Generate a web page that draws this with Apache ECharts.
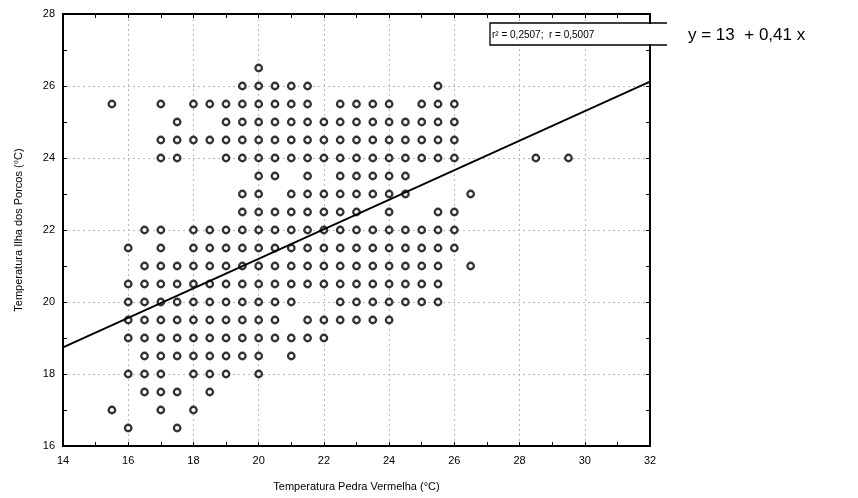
<!DOCTYPE html>
<html>
<head>
<meta charset="utf-8">
<script src="https://cdn.jsdelivr.net/npm/echarts@6/dist/echarts.min.js"></script>
<style>
  html, body { margin: 0; padding: 0; background: #fff; }
  #chart { width: 858px; height: 498px; }
</style>
</head>
<body>
<div id="chart"></div>
<script>
// Observed temperature pairs, grouped by Ilha dos Porcos temperature (°C):
// each row lists the Pedra Vermelha temperatures recorded with that value.
const rowY = [26.5, 26, 25.5, 25, 24.5, 24, 23.5, 23, 22.5, 22, 21.5, 21,
              20.5, 20, 19.5, 19, 18.5, 18, 17.5, 17, 16.5];
const rowX = [
  [20],
  [19.5, 20, 20.5, 21, 21.5, 25.5],
  [15.5, 17, 18, 18.5, 19, 19.5, 20, 20.5, 21, 21.5, 22.5, 23, 23.5, 24, 25, 25.5, 26],
  [17.5, 19, 19.5, 20, 20.5, 21, 21.5, 22, 22.5, 23, 23.5, 24, 24.5, 25, 25.5, 26],
  [17, 17.5, 18, 18.5, 19, 19.5, 20, 20.5, 21, 21.5, 22, 22.5, 23, 23.5, 24, 24.5, 25, 25.5, 26],
  [17, 17.5, 19, 19.5, 20, 20.5, 21, 21.5, 22, 22.5, 23, 23.5, 24, 24.5, 25, 25.5, 26, 28.5, 29.5],
  [20, 20.5, 21.5, 22.5, 23, 23.5, 24, 24.5],
  [19.5, 20, 21, 21.5, 22, 22.5, 23, 23.5, 24, 24.5, 26.5],
  [19.5, 20, 20.5, 21, 21.5, 22, 22.5, 23, 24, 25.5, 26],
  [16.5, 17, 18, 18.5, 19, 19.5, 20, 20.5, 21, 21.5, 22, 22.5, 23, 23.5, 24, 24.5, 25, 25.5, 26],
  [16, 17, 18, 18.5, 19, 19.5, 20, 20.5, 21, 21.5, 22, 22.5, 23, 23.5, 24, 24.5, 25, 25.5, 26],
  [16.5, 17, 17.5, 18, 18.5, 19, 19.5, 20, 20.5, 21, 21.5, 22, 22.5, 23, 23.5, 24, 24.5, 25, 25.5, 26.5],
  [16, 16.5, 17, 17.5, 18, 18.5, 19, 19.5, 20, 20.5, 21, 21.5, 22, 22.5, 23, 23.5, 24, 24.5, 25, 25.5],
  [16, 16.5, 17, 17.5, 18, 18.5, 19, 19.5, 20, 20.5, 21, 22.5, 23, 23.5, 24, 24.5, 25, 25.5],
  [16, 16.5, 17, 17.5, 18, 18.5, 19, 19.5, 20, 20.5, 21.5, 22, 22.5, 23, 23.5, 24],
  [16, 16.5, 17, 17.5, 18, 18.5, 19, 19.5, 20, 20.5, 21, 21.5, 22],
  [16.5, 17, 17.5, 18, 18.5, 19, 19.5, 20, 21],
  [16, 16.5, 17, 18, 18.5, 19, 20],
  [16.5, 17, 17.5, 18.5],
  [15.5, 17, 18],
  [16, 17.5]
];

// Least-squares fit reported on the chart
const fitIntercept = 13;
const fitSlope = 0.41;
const fitR2 = '0,2507';
const fitR = '0,5007';

// Axis ranges and tick step
const xRange = [14, 32];
const yRange = [16, 28];
const tickStep = 2;

const points = [];
rowY.forEach((y, i) => rowX[i].forEach(x => points.push([x, y])));

const fitLine = xRange.map(x => [x, fitIntercept + fitSlope * x]);

const FONT = 'Liberation Sans, Arial, sans-serif';

function axisBase(min, max, showLabels) {
  return {
    type: 'value',
    min: min,
    max: max,
    interval: tickStep,
    axisLine: { show: true, onZero: false, lineStyle: { color: '#000', width: 2 } },
    axisTick: { show: true, inside: true, length: 4, lineStyle: { color: '#000', width: 1 } },
    minorTick: { show: true, splitNumber: 2, length: 4, lineStyle: { color: '#000', width: 1 } },
    splitLine: { show: showLabels, lineStyle: { color: '#b8b8b8', type: [2, 3], width: 1 } },
    axisLabel: { show: showLabels, color: '#000', fontFamily: FONT, fontSize: 11 }
  };
}

const chart = echarts.init(document.getElementById('chart'), null, { renderer: 'canvas' });

chart.setOption({
  animation: false,
  backgroundColor: '#fff',
  grid: { left: 63, right: 208, top: 14, bottom: 52 },
  xAxis: [
    Object.assign(axisBase(xRange[0], xRange[1], true), {
      position: 'bottom',
      name: 'Temperatura Pedra Vermelha (°C)',
      nameLocation: 'middle',
      nameGap: 35,
      nameTextStyle: { color: '#000', fontFamily: FONT, fontSize: 11 },
      axisLabel: { color: '#000', fontFamily: FONT, fontSize: 11, margin: 9 }
    }),
    Object.assign(axisBase(xRange[0], xRange[1], false), { position: 'top' })
  ],
  yAxis: [
    Object.assign(axisBase(yRange[0], yRange[1], true), {
      position: 'left',
      name: 'Temperatura Ilha dos Porcos (°C)',
      nameLocation: 'middle',
      nameGap: 39,
      nameTextStyle: { color: '#000', fontFamily: FONT, fontSize: 11 },
      axisLabel: { color: '#000', fontFamily: FONT, fontSize: 11, margin: 8 }
    }),
    Object.assign(axisBase(yRange[0], yRange[1], false), { position: 'right' })
  ],
  series: [
    {
      type: 'scatter',
      data: points,
      symbol: 'circle',
      symbolSize: 6.5,
      itemStyle: { color: '#fff', borderColor: '#000', borderWidth: 2.3 },
      z: 3
    },
    {
      type: 'line',
      data: fitLine,
      symbol: 'none',
      lineStyle: { color: '#000', width: 1.8 },
      z: 4
    }
  ],
  graphic: [
    {
      type: 'rect',
      shape: { x: 491, y: 24, width: 176, height: 20 },
      style: { fill: '#fff' },
      z: 9
    },
    {
      type: 'polyline',
      shape: { points: [[667, 23], [490, 23], [490, 45], [667, 45]] },
      style: { stroke: '#000', lineWidth: 1.3, fill: null },
      z: 10
    },
    {
      type: 'text',
      left: 492,
      top: 30,
      style: {
        text: 'r² = ' + fitR2 + ';  r = ' + fitR,
        fontFamily: FONT,
        fontSize: 10,
        fill: '#000'
      },
      z: 11
    },
    {
      type: 'text',
      left: 688,
      top: 27,
      style: {
        text: 'y = ' + fitIntercept + '  + ' + String(fitSlope).replace('.', ',') + ' x',
        fontFamily: FONT,
        fontSize: 17,
        fill: '#000'
      },
      z: 11
    }
  ]
});
</script>
</body>
</html>
